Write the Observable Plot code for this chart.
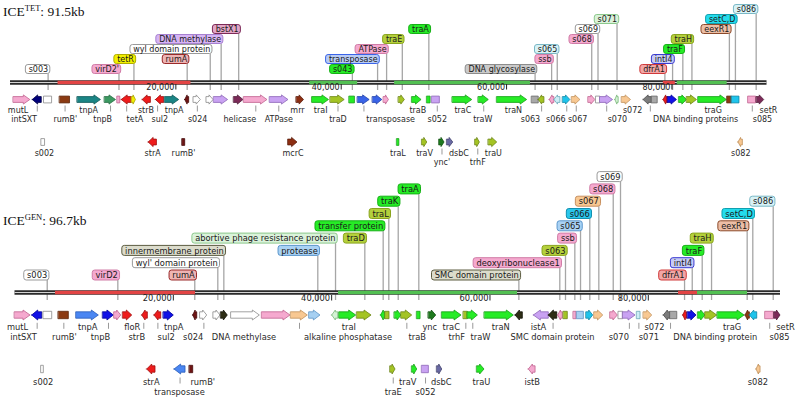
<!DOCTYPE html>
<html><head><meta charset="utf-8">
<script src="https://cdn.jsdelivr.net/npm/d3@7"></script>
<script src="https://cdn.jsdelivr.net/npm/@observablehq/plot@0.6"></script>
<style>
body{margin:0;background:#fff;width:800px;height:401px;overflow:hidden;position:relative}
#top,#bot{position:absolute;left:0}
#top{top:0}#bot{top:168px}
.title{position:absolute;left:3px;font-family:"Liberation Serif","Times New Roman",serif;font-size:13.5px;color:#111;white-space:nowrap}
.title sup{font-size:8.5px;vertical-align:0;position:relative;top:-5px}
</style></head><body>
<div id="top"></div><div id="bot"></div>
<div class="title" style="top:4px">ICE<sup>TET</sup>: 91.5kb</div>
<div class="title" style="top:213px">ICE<sup>GEN</sup>: 96.7kb</div>
<script>
// ---------- ICE-TET (91.5 kb) ----------
const tetLength = 91.5; // kb
const tetTicks = [20, 40, 60, 80];
const tetSegments = [[5.75,21.82,"red"],[36.19,41.99,"green"],[46.46,62.89,"green"],[78.96,80.41,"red"],[80.65,86.68,"green"]];
// [start kb, end kb, strand, class]
const tetGenesRow1 = [
 [0.40,2.40,"+","pink"],[2.69,3.78,"-","navy"],[4.10,5.03,"=","white"],[5.99,7.20,"=","brown"],
 [8.13,10.94,"+","teal"],[11.43,12.76,"+","sea"],[12.96,13.28,"=","pink"],[13.45,14.65,"-","red"],
 [14.69,15.17,"+","yellow"],[15.98,16.98,"-","red"],[17.59,18.59,"-","red"],[18.71,20.40,"+","teal"],
 [21.13,21.61,"-","dred"],[22.18,23.02,"+","white"],[23.75,24.56,"+","white"],[24.63,26.32,"+","lav"],
 [27.05,28.18,"+","mag"],[28.26,31.08,"+","pink"],[31.40,33.62,"+","lav"],[34.62,35.50,"+","rust"],
 [36.52,38.52,"+","green"],[38.73,40.42,"+","olive"],[41.02,41.66,"=","green"],[42.03,43.44,"+","tblue"],
 [43.84,44.97,"+","tblue"],[45.17,45.77,"+","pink"],[46.98,47.70,"+","olive"],[48.60,49.72,"+","green"],
 [50.41,50.81,"=","green"],[51.01,51.93,"=","lav"],[53.50,55.85,"+","green"],[56.64,57.85,"+","green"],
 [58.87,62.49,"+","green"],[63.09,63.89,"=","lgray"],[63.89,64.58,"-","olive"],[65.22,65.79,"-","pink"],
 [65.79,66.51,"-","lcyan"],[66.84,67.72,"+","cyan"],[67.93,68.93,"+","peach"],[69.93,70.74,"+","pink"],
 [70.86,71.35,"=","white"],[71.35,72.88,"+","lav"],[73.16,73.56,"-","pgreen"],[73.97,75.05,"+","peach"],
 [76.57,77.59,"-","gray"],[77.59,78.28,"=","lgray"],[78.99,79.52,"-","red"],[79.52,80.61,"+","blue"],
 [80.89,81.82,"+","green"],[81.82,83.03,"+","olive"],[83.22,86.65,"+","green"],[86.72,87.25,"=","brown"],
 [87.25,88.17,"=","cyan"],[89.26,90.19,"=","pink"],[90.27,91.16,"+","mag"]
];
const tetGenesRow2 = [
 [3.78,4.18,"=","white"],[16.71,17.71,"-","red"],[20.81,21.13,"=","dred"],[33.62,34.71,"+","rust"],
 [46.78,47.03,"=","green"],[49.81,50.41,"+","olive"],[51.89,52.50,"+","dgreen"],[52.83,53.55,"+","slate"],
 [56.24,56.77,"+","olive"],[57.85,58.87,"+","olive"],[88.05,88.58,"-","peach"]
];
// [label, x kb, tier, tick kb]
const tetLabelsRow1 = [
 ["mutL",0.92,1,null],["intSXT",1.64,2,3.24],["rumB'",6.63,2,6.6],["tnpA",9.46,1,null],
 ["tnpB",11.15,2,12.1],["tetA",15.05,2,14.05],["strB",16.38,1,null],["sul2",18.07,2,17.79],
 ["tnpA",19.80,1,null],["s024",22.63,2,22.6],["helicase",27.74,2,29.67],["ATPase",32.45,2,32.45],
 ["mrr",34.71,1,null],["traI",37.52,1,null],["traD",39.61,2,39.61],["transposase",45.98,2,42.75],
 ["traB",49.27,1,null],["s052",51.62,2,51.62],["traC",54.71,1,null],["traW",57.12,2,57.24],
 ["traN",60.83,1,null],["s063",62.89,2,64.24],["s066",65.96,2,67.28],["s067",68.60,2,68.43],
 ["s070",73.40,2,72.11],["s072",75.25,1,null],["DNA binding proteins",82.86,2,77.39],
 ["traG",84.99,1,null],["setR",91.68,1,null],["s085",90.95,2,89.72]
];
const tetLabelsRow2 = [
 ["s002",4.10,1,null],["strA",17.19,1,null],["rumB'",20.93,1,null],["mcrC",34.17,1,null],
 ["traL",46.86,1,null],["traV",50.08,1,null],["ync'",52.19,2,52.19],["dsbC",54.23,1,null],
 ["trhF",56.52,2,56.52],["traU",58.40,1,null],["s082",88.33,1,null]
];
// [label, x kb, stack level, class]
const tetCallouts = [
 ["s003",4.55,0,"white"],["virD2'",13.12,0,"pink"],["tetR",14.93,1,"yellow"],["rumA",21.37,1,"rose"],
 ["wyl domain protein",24.16,2,"white"],["DNA methylase",25.48,3,"lav"],["bstX1",27.60,4,"mauve"],
 ["s043",41.35,0,"green"],["transposase",44.40,1,"tblue"],["ATPase",45.49,2,"pink"],["traE",47.39,3,"olive"],
 ["traA",50.60,4,"green"],["DNA glycosylase",63.45,0,"lgray"],["ssb",65.45,1,"pink"],["s065",66.13,2,"lcyan"],
 ["s068",70.30,3,"pink"],["s069",71.06,4,"white"],["s071",73.36,5,"pgreen"],["dfrA1",79.15,0,"red"],
 ["intI4",80.08,1,"blue"],["traF",81.32,2,"green"],["traH",82.42,3,"olive"],["eexR1",86.95,4,"tan"],
 ["setC,D",87.68,5,"cyan"],["s086",90.19,6,"lcyan"]
];

// ---------- ICE-GEN (96.7 kb) ----------
const genLength = 96.7;
const genTicks = [20, 40, 60, 80];
const genSegments = [[5.12,22.80,"red"],[40.87,63.48,"green"],[83.82,86.22,"red"],[86.22,92.54,"green"]];
const genGenesRow1 = [
 [0.0,1.96,"+","pink"],[2.17,3.44,"-","blue"],[3.64,4.70,"=","white"],[5.53,6.80,"=","brown"],
 [7.77,10.59,"+","cblue"],[11.14,12.48,"+","blue"],[12.57,13.42,"+","pink"],[13.67,14.81,"+","red"],
 [16.07,16.78,"-","red"],[17.62,18.47,"-","red"],[18.80,20.06,"+","blue"],[22.51,23.02,"-","dred"],
 [23.43,24.28,"+","white"],[25.11,25.96,"+","white"],[26.05,26.88,"+","dolive"],[27.35,30.93,"+","white"],
 [31.23,34.80,"+","pink"],[34.89,36.99,"+","peach"],[37.20,38.59,"+","lblue"],[40.07,40.83,"-","pgreen"],
 [41.00,43.10,"+","green"],[43.23,45.04,"+","olive"],[46.24,46.81,"-","green"],[46.81,47.31,"=","olive"],
 [47.98,48.83,"+","green"],[48.83,50.18,"+","olive"],[50.81,51.23,"=","green"],[52.28,53.21,"+","dgreen"],
 [53.97,56.41,"+","green"],[56.70,57.20,"=","olive"],[57.20,58.47,"+","green"],[59.35,63.01,"+","green"],
 [63.23,64.15,"-","dolive"],[65.54,67.43,"-","lav"],[67.43,68.50,"-","dolive"],[68.62,69.20,"-","pink"],
 [69.33,69.83,"=","olive"],[70.59,70.94,"=","pink"],[71.02,71.86,"=","lblue"],[72.20,73.04,"+","cyan"],
 [73.21,74.31,"+","peach"],[75.23,76.15,"+","pink"],[76.28,76.83,"=","white"],[76.83,78.39,"+","lav"],
 [78.60,79.02,"=","lcyan"],[79.44,80.50,"+","peach"],[81.96,82.81,"-","gray"],[82.81,83.66,"=","lgray"],
 [84.41,84.92,"-","red"],[85.00,86.09,"+","blue"],[86.31,87.23,"+","green"],[87.23,88.71,"+","olive"],
 [88.78,92.16,"+","green"],[92.28,92.83,"-","brown"],[92.83,93.76,"-","cyan"],[94.81,95.86,"=","pink"],
 [95.95,96.70,"+","mag"]
];
const genGenesRow2 = [
 [3.35,3.64,"=","white"],[16.70,17.75,"-","red"],[20.15,21.54,"-","cblue"],[22.08,22.51,"=","dred"],
 [47.44,48.07,"+","olive"],[50.18,50.81,"+","green"],[51.44,52.28,"=","lav"],[53.34,53.97,"+","slate"],
 [58.39,59.31,"+","green"],[64.91,65.76,"-","pink"],[93.67,94.18,"-","peach"]
];
const genLabelsRow1 = [
 ["mutL",0.32,1,null],["intSXT",1.07,2,2.8],["rumB'",6.25,2,6.17],["tnpA",9.20,1,null],
 ["tnpB",10.80,2,11.81],["floR",14.81,1,null],["strB",15.39,2,16.27],["sul2",19.10,2,18.05],
 ["tnpA",20.06,1,null],["s024",22.51,2,23.86],["DNA methylase",28.93,2,null],
 ["alkaline phosphatase",42.07,2,35.94],["traI",42.17,1,null],["traB",50.81,2,49.5],["ync",52.4,1,null],
 ["traC",55.10,1,null],["trhF",55.81,2,56.95],["traW",58.81,2,57.83],["traN",61.37,1,null],
 ["istA",66.13,1,null],["SMC domain protein",67.9,2,67.97],["s070",76.28,2,77.61],["s071",80.07,2,78.81],
 ["s072",80.79,1,null],["DNA binding protein",88.46,2,82.81],["traG",90.60,1,null],["setR",97.33,1,null],
 ["s085",96.58,2,95.34]
];
const genLabelsRow2 = [
 ["s002",3.56,1,null],["strA",17.21,1,null],["transposase",20.78,2,20.85],["rumB'",23.72,1,null],
 ["traE",47.78,2,47.78],["traV",49.62,1,null],["s052",51.86,2,51.86],["dsbC",53.84,1,null],
 ["traU",58.93,1,null],["istB",65.34,1,null],["s082",93.84,1,null]
];
const genCallouts = [
 ["s003",4.07,0,"white"],["virD2",12.99,0,"pink"],["rumA",22.71,0,"rose"],
 ["wyl' domain protein",25.62,1,"white"],["innermembrane protein",26.38,2,"khaki"],
 ["abortive phage resistance protein",40.49,3,"pgreen"],["protease",38.25,2,"lblue"],["traD",44.19,3,"olive"],
 ["transfer protein",46.51,4,"green"],["traL",47.22,5,"olive"],["traK",48.41,6,"green"],["traA",51.01,7,"green"],
 ["SMC domain protein",63.65,0,"khaki"],["deoxyribonuclease1",68.82,1,"pink"],["s063",69.54,2,"olive"],
 ["ssb",70.72,3,"pink"],["s065",71.44,4,"lblue"],["s066",72.61,5,"ccyan"],["s067",73.75,6,"peach"],
 ["s068",75.57,7,"pink"],["s069",76.49,8,"white"],["dfrA1",84.58,0,"red"],["intI4",85.55,1,"blue"],
 ["traF",86.81,2,"green"],["traH",87.99,3,"olive"],["eexR1",92.49,4,"tan"],["setC,D",93.20,5,"cyan"],
 ["s086",95.78,6,"lcyan"]
];

// ---------- styles ----------
const genePal = {
 pink:["#f5a9cf","#c0628f"], navy:["#00007a","#000048"], blue:["#1212e6","#00009a"], white:["#ffffff","#8a8a8a"],
 brown:["#8b3a12","#5a240a"], teal:["#1b8585","#0f5858"], sea:["#3c9a62","#256b41"], red:["#ee1c1c","#a00f0f"],
 yellow:["#f2ee00","#a8a400"], dred:["#6e1414","#450a0a"], lav:["#c9a2f2","#8d66b8"], mag:["#7c2a58","#4f1a38"],
 rust:["#8c2e12","#5c1d0b"], green:["#26ec26","#14a014"], olive:["#a4c424","#6c8515"], tblue:["#3a64e8","#2040a8"],
 cblue:["#4a86f2","#2a5cb8"], lblue:["#a6d0f2","#5e94c4"], lcyan:["#cdeef6","#6aa8b8"], cyan:["#1ec4ec","#0f86a4"],
 peach:["#f8c892","#c0905a"], gray:["#7c7c7c","#4a4a4a"], lgray:["#a8a8a8","#666666"], dgreen:["#1e7a1e","#0f4f0f"],
 slate:["#6a6aa4","#40406c"], dolive:["#2e2e16","#111108"], pgreen:["#d4f2d4","#7ab87a"]
};
const boxPal = {
 white:["#ffffff","#9a9a9a"], pink:["#f5a9cf","#d07ca6"], yellow:["#f2f000","#b0ac00"], rose:["#eeb4b4","#9a2a2a"],
 lav:["#d6b4f4","#a680d0"], mauve:["#e2a6c6","#7c2a58"], green:["#26ec26","#16b016"], tblue:["#b8cbf4","#3a64e8"],
 olive:["#b4d03c","#8aa41e"], lgray:["#cacaca","#8c8c8c"], lcyan:["#d8f2f6","#7ab8c6"], pgreen:["#daf2da","#8cc88c"],
 red:["#f2a6a6","#d03a3a"], blue:["#c6caf6","#3a3ad0"], tan:["#ecbea6","#8c4a2a"], cyan:["#24dcec","#10a0b0"],
 khaki:["#dcdccc","#5c5c40"], lblue:["#aad2f4","#5a96cc"], ccyan:["#2ac6ec","#1090b0"], peach:["#f8c892","#c89060"]
};
const segPal = {red:"#e24444", green:"#52c052"};
const FONT = "DejaVu Sans";
const ctx = document.createElement("canvas").getContext("2d");
const textWidth = (s, size) => { ctx.font = `${size}px "${FONT}"`; return ctx.measureText(s).width; };
const fmt = d3.format(",");

function panel(target, P) {
  const k = (P.range[1] - P.range[0]) / P.length;
  const shapes = [];
  const addRow = (list, yc, tag) => list.forEach((g, i) => {
    const [s, e, strand, key] = g;
    const [fill, stroke] = genePal[key];
    const hb = Math.min(P.headPx / k, (e - s) * 0.6);
    const {hh, bh, bx} = P;
    let pts;
    if (strand === "+") pts = [[s, yc-bh, yc+bh], [e-hb, yc-bh, yc+bh], [e-hb, yc-hh, yc+hh], [e, yc, yc]];
    else if (strand === "-") pts = [[s, yc, yc], [s+hb, yc-hh, yc+hh], [s+hb, yc-bh, yc+bh], [e, yc-bh, yc+bh]];
    else pts = [[s, yc-bx, yc+bx], [e, yc-bx, yc+bx]];
    for (const [x, y1, y2] of pts) shapes.push({id: tag + i, x, y1, y2, fill, stroke});
  });
  addRow(P.genes1, P.r1, "a");
  addRow(P.genes2, P.r2, "b");

  const labs = [
    ...P.labels1.map(([text, x, tier, tick]) => ({text, x, tick, y: tier === 1 ? P.l1a : P.l1b, ty: P.l1a})),
    ...P.labels2.map(([text, x, tier, tick]) => ({text, x, tick, y: tier === 1 ? P.l2a : P.l2b, ty: P.l2a}))
  ];
  const calls = P.callouts.map(([text, x, level, key]) => ({
    text, x, yc: P.c0 - level * P.cs, fill: boxPal[key][0], stroke: boxPal[key][1], w: textWidth(text, P.fs)
  }));
  const backbone = [{x1: 0, x2: P.length, y: P.bb}];
  const segs = P.segments.map(([a, b, c]) => ({x1: a, x2: b, y: P.bb, c: segPal[c]}));
  const ticks = P.ticks.map(t => ({x: t, label: fmt(t * 1000)}));

  const chart = Plot.plot({
    width: 800, height: P.H, margin: 0,
    x: {domain: [0, P.length], range: P.range, axis: null},
    y: {domain: [0, P.H], range: [0, P.H], axis: null},
    marks: [
      Plot.ruleX(calls, {x: "x", y1: d => d.yc + P.boxH / 2, y2: () => P.bb + 8, stroke: "#a6a6a6", strokeWidth: 1.3}),
      Plot.ruleY(backbone, {x1: "x1", x2: "x2", y: "y", stroke: "#2a2a2a", strokeWidth: 4.6}),
      Plot.ruleY(backbone, {x1: "x1", x2: "x2", y: "y", stroke: "#d4d4d4", strokeWidth: 1.2}),
      Plot.ruleY(segs, {x1: "x1", x2: "x2", y: "y", stroke: "c", strokeWidth: 3.4}),
      Plot.ruleX(ticks, {x: "x", y1: () => P.bb + P.tk - 3, y2: () => P.bb + P.tk + 2.5, stroke: "#222", strokeWidth: 1}),
      Plot.text(ticks, {x: "x", y: () => P.bb + P.tk, text: "label", textAnchor: "end", dx: -1.5, fontSize: P.fs, fontFamily: FONT, fill: "#222"}),
      Plot.rect(calls, {
        x1: d => d.x - (d.w + 2.8) / k, x2: d => d.x + 2.2 / k,
        y1: d => d.yc - P.boxH / 2, y2: d => d.yc + P.boxH / 2,
        fill: "fill", stroke: "stroke", strokeWidth: 1, rx: 2.5
      }),
      Plot.text(calls, {x: "x", y: "yc", text: "text", textAnchor: "end", fontSize: P.fs, fontFamily: FONT, fill: "#1a1a1a"}),
      Plot.areaY(shapes, {x: "x", y1: "y1", y2: "y2", z: "id", fill: "fill", stroke: "stroke", strokeWidth: 0.8}),
      Plot.ruleX(labs.filter(d => d.tick != null), {x: "tick", y1: d => d.ty - 4.5, y2: d => d.ty + 1.5, stroke: "#999", strokeWidth: 1}),
      Plot.text(labs, {x: "x", y: "y", text: "text", fontSize: P.fs, fontFamily: FONT, fill: "#2a2a2a"})
    ]
  });
  document.getElementById(target).append(chart);
}

panel("top", {
  H: 168, length: tetLength, range: [10, 766.5], ticks: tetTicks, segments: tetSegments,
  genes1: tetGenesRow1, genes2: tetGenesRow2, labels1: tetLabelsRow1, labels2: tetLabelsRow2, callouts: tetCallouts,
  bb: 82, r1: 99.5, l1a: 110, l1b: 118.5, r2: 142, l2a: 153, l2b: 161.5,
  c0: 69, cs: 10, boxH: 9, fs: 8, hh: 4.6, bh: 2.9, bx: 3.4, headPx: 6.5, tk: 5
});
panel("bot", {
  H: 233, length: genLength, range: [14.5, 780], ticks: genTicks, segments: genSegments,
  genes1: genGenesRow1, genes2: genGenesRow2, labels1: genLabelsRow1, labels2: genLabelsRow2, callouts: genCallouts,
  bb: 124, r1: 147, l1a: 159.3, l1b: 169, r2: 201, l2a: 214, l2b: 224,
  c0: 107, cs: 12.3, boxH: 10, fs: 8.3, hh: 5, bh: 3.2, bx: 3.7, headPx: 7, tk: 6
});
</script></body></html>
